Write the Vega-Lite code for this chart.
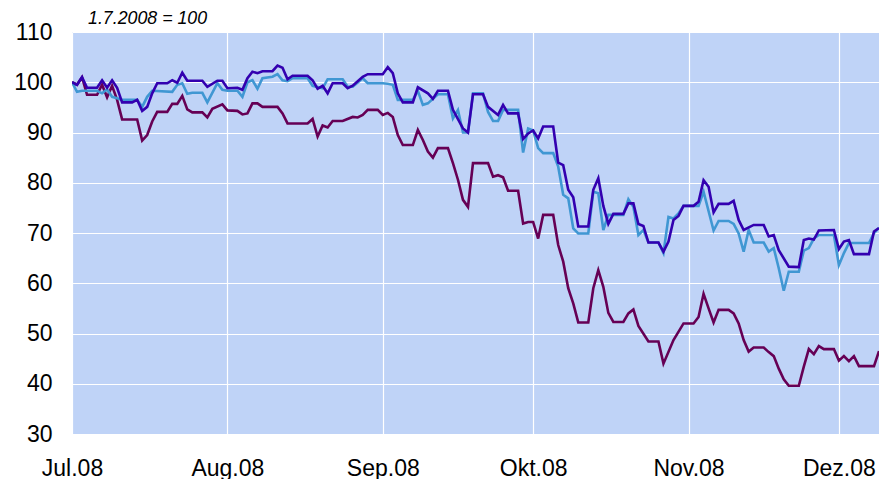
{
 "$schema": "https://vega.github.io/schema/vega-lite/v6.json",
 "width": 807,
 "height": 402,
 "autosize": {"type": "none"},
 "padding": {"left": 72, "top": 32, "right": 0, "bottom": 45},
 "background": "white",
 "title": {"text": "1.7.2008 = 100", "anchor": "start", "frame": "group", "fontStyle": "italic", "fontWeight": "normal", "fontSize": 17.8, "font": "Liberation Sans", "color": "black", "baseline": "bottom", "offset": 5, "dx": 16, "dy": 30},
 "config": {"view": {"fill": "#BFD3F7", "stroke": null}, "font": "Liberation Sans"},
 "data": {"values": [
  {"d":"2008-07-01","s":"A","v":100},{"d":"2008-07-02","s":"A","v":99.5},{"d":"2008-07-03","s":"A","v":101},{"d":"2008-07-04","s":"A","v":97.5},{"d":"2008-07-06","s":"A","v":97.5},{"d":"2008-07-07","s":"A","v":99.5},{"d":"2008-07-08","s":"A","v":97},{"d":"2008-07-09","s":"A","v":99.3},{"d":"2008-07-10","s":"A","v":96.5},{"d":"2008-07-11","s":"A","v":92.6},{"d":"2008-07-14","s":"A","v":92.6},{"d":"2008-07-15","s":"A","v":88.4},{"d":"2008-07-16","s":"A","v":89.5},{"d":"2008-07-17","s":"A","v":92.2},{"d":"2008-07-18","s":"A","v":94.1},{"d":"2008-07-20","s":"A","v":94.1},{"d":"2008-07-21","s":"A","v":95.7},{"d":"2008-07-22","s":"A","v":95.7},{"d":"2008-07-23","s":"A","v":97.3},{"d":"2008-07-24","s":"A","v":94.6},{"d":"2008-07-25","s":"A","v":94},{"d":"2008-07-27","s":"A","v":94},{"d":"2008-07-28","s":"A","v":93},{"d":"2008-07-29","s":"A","v":94.7},{"d":"2008-07-31","s":"A","v":95.6},
  {"d":"2008-08-01","s":"A","v":94.4},{"d":"2008-08-03","s":"A","v":94.3},{"d":"2008-08-04","s":"A","v":93.6},{"d":"2008-08-05","s":"A","v":93.8},{"d":"2008-08-06","s":"A","v":95.8},{"d":"2008-08-07","s":"A","v":95.8},{"d":"2008-08-08","s":"A","v":95.1},{"d":"2008-08-11","s":"A","v":95.1},{"d":"2008-08-12","s":"A","v":93.8},{"d":"2008-08-13","s":"A","v":91.8},{"d":"2008-08-17","s":"A","v":91.8},{"d":"2008-08-18","s":"A","v":92.7},{"d":"2008-08-19","s":"A","v":89.2},{"d":"2008-08-20","s":"A","v":91.4},{"d":"2008-08-21","s":"A","v":91},{"d":"2008-08-22","s":"A","v":92.3},{"d":"2008-08-24","s":"A","v":92.3},{"d":"2008-08-26","s":"A","v":93.1},{"d":"2008-08-27","s":"A","v":93},{"d":"2008-08-28","s":"A","v":93.5},{"d":"2008-08-29","s":"A","v":94.5},{"d":"2008-08-31","s":"A","v":94.5},
  {"d":"2008-09-01","s":"A","v":93.5},{"d":"2008-09-02","s":"A","v":93.9},{"d":"2008-09-03","s":"A","v":93.1},{"d":"2008-09-04","s":"A","v":89.5},{"d":"2008-09-05","s":"A","v":87.5},{"d":"2008-09-07","s":"A","v":87.5},{"d":"2008-09-08","s":"A","v":90.5},{"d":"2008-09-09","s":"A","v":88.5},{"d":"2008-09-10","s":"A","v":86.2},{"d":"2008-09-11","s":"A","v":85},{"d":"2008-09-12","s":"A","v":86.9},{"d":"2008-09-14","s":"A","v":86.9},{"d":"2008-09-15","s":"A","v":83.9},{"d":"2008-09-16","s":"A","v":80.6},{"d":"2008-09-17","s":"A","v":76.6},{"d":"2008-09-18","s":"A","v":75.2},{"d":"2008-09-19","s":"A","v":83.9},{"d":"2008-09-22","s":"A","v":83.9},{"d":"2008-09-23","s":"A","v":81.2},{"d":"2008-09-24","s":"A","v":81.5},{"d":"2008-09-25","s":"A","v":81.1},{"d":"2008-09-26","s":"A","v":78.4},{"d":"2008-09-28","s":"A","v":78.4},{"d":"2008-09-29","s":"A","v":71.9},{"d":"2008-09-30","s":"A","v":72.2},
  {"d":"2008-10-01","s":"A","v":72.2},{"d":"2008-10-02","s":"A","v":68.9},{"d":"2008-10-03","s":"A","v":73.6},{"d":"2008-10-05","s":"A","v":73.6},{"d":"2008-10-06","s":"A","v":67.6},{"d":"2008-10-07","s":"A","v":64.3},{"d":"2008-10-08","s":"A","v":59},{"d":"2008-10-09","s":"A","v":56},{"d":"2008-10-10","s":"A","v":52.2},{"d":"2008-10-12","s":"A","v":52.2},{"d":"2008-10-13","s":"A","v":59},{"d":"2008-10-14","s":"A","v":62.6},{"d":"2008-10-15","s":"A","v":59.3},{"d":"2008-10-16","s":"A","v":54.1},{"d":"2008-10-17","s":"A","v":52.3},{"d":"2008-10-19","s":"A","v":52.3},{"d":"2008-10-20","s":"A","v":54},{"d":"2008-10-21","s":"A","v":54.8},{"d":"2008-10-22","s":"A","v":51.5},{"d":"2008-10-24","s":"A","v":48.4},{"d":"2008-10-26","s":"A","v":48.4},{"d":"2008-10-27","s":"A","v":44},{"d":"2008-10-29","s":"A","v":48.7},{"d":"2008-10-31","s":"A","v":52},
  {"d":"2008-11-02","s":"A","v":52},{"d":"2008-11-03","s":"A","v":53.3},{"d":"2008-11-04","s":"A","v":57.9},{"d":"2008-11-05","s":"A","v":55},{"d":"2008-11-06","s":"A","v":52.2},{"d":"2008-11-07","s":"A","v":54.7},{"d":"2008-11-09","s":"A","v":54.7},{"d":"2008-11-10","s":"A","v":54},{"d":"2008-11-11","s":"A","v":52},{"d":"2008-11-12","s":"A","v":48.7},{"d":"2008-11-13","s":"A","v":46.4},{"d":"2008-11-14","s":"A","v":47.2},{"d":"2008-11-16","s":"A","v":47.2},{"d":"2008-11-17","s":"A","v":46.3},{"d":"2008-11-18","s":"A","v":45.5},{"d":"2008-11-19","s":"A","v":43},{"d":"2008-11-20","s":"A","v":40.9},{"d":"2008-11-21","s":"A","v":39.6},{"d":"2008-11-23","s":"A","v":39.6},{"d":"2008-11-24","s":"A","v":43.4},{"d":"2008-11-25","s":"A","v":46.9},{"d":"2008-11-26","s":"A","v":45.9},{"d":"2008-11-27","s":"A","v":47.5},{"d":"2008-11-28","s":"A","v":46.9},{"d":"2008-11-30","s":"A","v":46.9},
  {"d":"2008-12-01","s":"A","v":44.6},{"d":"2008-12-02","s":"A","v":45.5},{"d":"2008-12-03","s":"A","v":44.5},{"d":"2008-12-04","s":"A","v":45.5},{"d":"2008-12-05","s":"A","v":43.5},{"d":"2008-12-08","s":"A","v":43.5},{"d":"2008-12-09","s":"A","v":46.5},

  {"d":"2008-07-01","s":"B","v":100},{"d":"2008-07-02","s":"B","v":98.1},{"d":"2008-07-03","s":"B","v":98.3},{"d":"2008-07-06","s":"B","v":98.3},{"d":"2008-07-07","s":"B","v":97.8},{"d":"2008-07-08","s":"B","v":98.6},{"d":"2008-07-09","s":"B","v":97.1},{"d":"2008-07-10","s":"B","v":96.8},{"d":"2008-07-11","s":"B","v":96.5},{"d":"2008-07-14","s":"B","v":96.5},{"d":"2008-07-15","s":"B","v":95.1},{"d":"2008-07-16","s":"B","v":97.1},{"d":"2008-07-17","s":"B","v":98.3},{"d":"2008-07-21","s":"B","v":98.1},{"d":"2008-07-22","s":"B","v":99.5},{"d":"2008-07-23","s":"B","v":99.8},{"d":"2008-07-24","s":"B","v":97.7},{"d":"2008-07-25","s":"B","v":97.9},{"d":"2008-07-27","s":"B","v":97.9},{"d":"2008-07-28","s":"B","v":96},{"d":"2008-07-30","s":"B","v":99.8},{"d":"2008-07-31","s":"B","v":98.5},
  {"d":"2008-08-01","s":"B","v":98.3},{"d":"2008-08-03","s":"B","v":98.3},{"d":"2008-08-04","s":"B","v":97.1},{"d":"2008-08-05","s":"B","v":100},{"d":"2008-08-06","s":"B","v":100.4},{"d":"2008-08-07","s":"B","v":98.7},{"d":"2008-08-08","s":"B","v":100.8},{"d":"2008-08-10","s":"B","v":101.1},{"d":"2008-08-11","s":"B","v":101.6},{"d":"2008-08-12","s":"B","v":100.4},{"d":"2008-08-13","s":"B","v":100.2},{"d":"2008-08-14","s":"B","v":100.8},{"d":"2008-08-17","s":"B","v":100.8},{"d":"2008-08-18","s":"B","v":99.3},{"d":"2008-08-20","s":"B","v":98.8},{"d":"2008-08-21","s":"B","v":100.6},{"d":"2008-08-24","s":"B","v":100.6},{"d":"2008-08-25","s":"B","v":99.1},{"d":"2008-08-26","s":"B","v":99.1},{"d":"2008-08-28","s":"B","v":100.8},{"d":"2008-08-29","s":"B","v":99.8},
  {"d":"2008-09-01","s":"B","v":99.8},{"d":"2008-09-02","s":"B","v":99.7},{"d":"2008-09-03","s":"B","v":99.5},{"d":"2008-09-04","s":"B","v":96.5},{"d":"2008-09-07","s":"B","v":96.5},{"d":"2008-09-08","s":"B","v":98.3},{"d":"2008-09-09","s":"B","v":95.5},{"d":"2008-09-10","s":"B","v":95.8},{"d":"2008-09-12","s":"B","v":97.6},{"d":"2008-09-14","s":"B","v":97.6},{"d":"2008-09-15","s":"B","v":92.8},{"d":"2008-09-16","s":"B","v":94.5},{"d":"2008-09-17","s":"B","v":90},{"d":"2008-09-18","s":"B","v":90},{"d":"2008-09-19","s":"B","v":97.8},{"d":"2008-09-21","s":"B","v":97.8},{"d":"2008-09-22","s":"B","v":94.1},{"d":"2008-09-23","s":"B","v":92.3},{"d":"2008-09-24","s":"B","v":92.3},{"d":"2008-09-25","s":"B","v":94.5},{"d":"2008-09-28","s":"B","v":94.5},{"d":"2008-09-29","s":"B","v":86},{"d":"2008-09-30","s":"B","v":90.8},
  {"d":"2008-10-01","s":"B","v":90.4},{"d":"2008-10-02","s":"B","v":86.9},{"d":"2008-10-03","s":"B","v":85.9},{"d":"2008-10-05","s":"B","v":85.9},{"d":"2008-10-06","s":"B","v":83.2},{"d":"2008-10-07","s":"B","v":77.6},{"d":"2008-10-08","s":"B","v":76.9},{"d":"2008-10-09","s":"B","v":70.9},{"d":"2008-10-10","s":"B","v":69.9},{"d":"2008-10-12","s":"B","v":69.9},{"d":"2008-10-13","s":"B","v":78.2},{"d":"2008-10-14","s":"B","v":77.9},{"d":"2008-10-15","s":"B","v":70.6},{"d":"2008-10-16","s":"B","v":73.6},{"d":"2008-10-19","s":"B","v":73.6},{"d":"2008-10-20","s":"B","v":76.7},{"d":"2008-10-21","s":"B","v":75.2},{"d":"2008-10-22","s":"B","v":69.6},{"d":"2008-10-23","s":"B","v":70.6},{"d":"2008-10-24","s":"B","v":68.1},{"d":"2008-10-26","s":"B","v":68.1},{"d":"2008-10-27","s":"B","v":66},{"d":"2008-10-28","s":"B","v":73.2},{"d":"2008-10-29","s":"B","v":72.9},{"d":"2008-10-30","s":"B","v":73.9},{"d":"2008-10-31","s":"B","v":75.4},
  {"d":"2008-11-03","s":"B","v":75.4},{"d":"2008-11-04","s":"B","v":78.2},{"d":"2008-11-06","s":"B","v":70.5},{"d":"2008-11-07","s":"B","v":72.4},{"d":"2008-11-09","s":"B","v":72.4},{"d":"2008-11-10","s":"B","v":71.8},{"d":"2008-11-11","s":"B","v":69.9},{"d":"2008-11-12","s":"B","v":66.3},{"d":"2008-11-13","s":"B","v":70.6},{"d":"2008-11-14","s":"B","v":68.1},{"d":"2008-11-16","s":"B","v":68.1},{"d":"2008-11-17","s":"B","v":66.3},{"d":"2008-11-18","s":"B","v":67},{"d":"2008-11-19","s":"B","v":63},{"d":"2008-11-20","s":"B","v":58.5},{"d":"2008-11-21","s":"B","v":62.3},{"d":"2008-11-23","s":"B","v":62.3},{"d":"2008-11-24","s":"B","v":66.5},{"d":"2008-11-25","s":"B","v":67},{"d":"2008-11-26","s":"B","v":68.9},{"d":"2008-11-27","s":"B","v":69.6},{"d":"2008-11-30","s":"B","v":69.6},
  {"d":"2008-12-01","s":"B","v":63.6},{"d":"2008-12-02","s":"B","v":66},{"d":"2008-12-03","s":"B","v":68},{"d":"2008-12-07","s":"B","v":68},{"d":"2008-12-08","s":"B","v":70},{"d":"2008-12-09","s":"B","v":71},

  {"d":"2008-07-01","s":"C","v":100},{"d":"2008-07-02","s":"C","v":99.5},{"d":"2008-07-03","s":"C","v":101},{"d":"2008-07-04","s":"C","v":98.9},{"d":"2008-07-06","s":"C","v":98.9},{"d":"2008-07-07","s":"C","v":100.4},{"d":"2008-07-08","s":"C","v":98.9},{"d":"2008-07-09","s":"C","v":100.4},{"d":"2008-07-10","s":"C","v":98.9},{"d":"2008-07-11","s":"C","v":96},{"d":"2008-07-13","s":"C","v":96},{"d":"2008-07-14","s":"C","v":96.5},{"d":"2008-07-15","s":"C","v":94.3},{"d":"2008-07-16","s":"C","v":95.1},{"d":"2008-07-17","s":"C","v":97.8},{"d":"2008-07-18","s":"C","v":99.8},{"d":"2008-07-20","s":"C","v":99.8},{"d":"2008-07-21","s":"C","v":100.4},{"d":"2008-07-22","s":"C","v":99.9},{"d":"2008-07-23","s":"C","v":101.9},{"d":"2008-07-24","s":"C","v":100.3},{"d":"2008-07-27","s":"C","v":100.3},{"d":"2008-07-28","s":"C","v":99.1},{"d":"2008-07-30","s":"C","v":100.3},{"d":"2008-07-31","s":"C","v":100.3},
  {"d":"2008-08-01","s":"C","v":98.8},{"d":"2008-08-03","s":"C","v":98.9},{"d":"2008-08-04","s":"C","v":98.5},{"d":"2008-08-05","s":"C","v":100.8},{"d":"2008-08-06","s":"C","v":102.1},{"d":"2008-08-07","s":"C","v":101.8},{"d":"2008-08-08","s":"C","v":102.2},{"d":"2008-08-10","s":"C","v":102.2},{"d":"2008-08-11","s":"C","v":103.3},{"d":"2008-08-12","s":"C","v":102.9},{"d":"2008-08-13","s":"C","v":100.6},{"d":"2008-08-14","s":"C","v":101.3},{"d":"2008-08-17","s":"C","v":101.3},{"d":"2008-08-18","s":"C","v":100.4},{"d":"2008-08-19","s":"C","v":98.7},{"d":"2008-08-20","s":"C","v":99.3},{"d":"2008-08-21","s":"C","v":97.8},{"d":"2008-08-22","s":"C","v":99.8},{"d":"2008-08-24","s":"C","v":99.8},{"d":"2008-08-25","s":"C","v":98.8},{"d":"2008-08-26","s":"C","v":99.3},{"d":"2008-08-28","s":"C","v":101.1},{"d":"2008-08-29","s":"C","v":101.6},
  {"d":"2008-09-01","s":"C","v":101.6},{"d":"2008-09-02","s":"C","v":103},{"d":"2008-09-03","s":"C","v":101.8},{"d":"2008-09-04","s":"C","v":97.8},{"d":"2008-09-05","s":"C","v":96},{"d":"2008-09-07","s":"C","v":96},{"d":"2008-09-08","s":"C","v":99},{"d":"2008-09-10","s":"C","v":97.8},{"d":"2008-09-11","s":"C","v":96.7},{"d":"2008-09-12","s":"C","v":98.3},{"d":"2008-09-14","s":"C","v":98.3},{"d":"2008-09-15","s":"C","v":94.5},{"d":"2008-09-17","s":"C","v":90.8},{"d":"2008-09-18","s":"C","v":90},{"d":"2008-09-19","s":"C","v":97.6},{"d":"2008-09-21","s":"C","v":97.6},{"d":"2008-09-22","s":"C","v":95.1},{"d":"2008-09-24","s":"C","v":93.5},{"d":"2008-09-25","s":"C","v":95.5},{"d":"2008-09-26","s":"C","v":93.8},{"d":"2008-09-28","s":"C","v":93.8},{"d":"2008-09-29","s":"C","v":88.7},{"d":"2008-09-30","s":"C","v":89.8},
  {"d":"2008-10-01","s":"C","v":90.4},{"d":"2008-10-02","s":"C","v":88.8},{"d":"2008-10-03","s":"C","v":91.2},{"d":"2008-10-05","s":"C","v":91.2},{"d":"2008-10-06","s":"C","v":84},{"d":"2008-10-07","s":"C","v":83.5},{"d":"2008-10-08","s":"C","v":78.6},{"d":"2008-10-09","s":"C","v":77.1},{"d":"2008-10-10","s":"C","v":71.3},{"d":"2008-10-12","s":"C","v":71.3},{"d":"2008-10-13","s":"C","v":78.6},{"d":"2008-10-14","s":"C","v":80.9},{"d":"2008-10-15","s":"C","v":75.4},{"d":"2008-10-16","s":"C","v":71.8},{"d":"2008-10-17","s":"C","v":73.8},{"d":"2008-10-19","s":"C","v":73.8},{"d":"2008-10-20","s":"C","v":75.9},{"d":"2008-10-21","s":"C","v":75.9},{"d":"2008-10-22","s":"C","v":71.8},{"d":"2008-10-23","s":"C","v":71.4},{"d":"2008-10-24","s":"C","v":68.1},{"d":"2008-10-26","s":"C","v":68.1},{"d":"2008-10-27","s":"C","v":66.3},{"d":"2008-10-28","s":"C","v":68.3},{"d":"2008-10-29","s":"C","v":72.6},{"d":"2008-10-30","s":"C","v":73.4},{"d":"2008-10-31","s":"C","v":75.4},
  {"d":"2008-11-02","s":"C","v":75.4},{"d":"2008-11-03","s":"C","v":76.2},{"d":"2008-11-04","s":"C","v":80.5},{"d":"2008-11-05","s":"C","v":79.2},{"d":"2008-11-06","s":"C","v":74.1},{"d":"2008-11-07","s":"C","v":75.8},{"d":"2008-11-09","s":"C","v":75.8},{"d":"2008-11-10","s":"C","v":76.4},{"d":"2008-11-11","s":"C","v":72.6},{"d":"2008-11-12","s":"C","v":70.6},{"d":"2008-11-14","s":"C","v":71.6},{"d":"2008-11-16","s":"C","v":71.6},{"d":"2008-11-17","s":"C","v":69.3},{"d":"2008-11-18","s":"C","v":69.6},{"d":"2008-11-19","s":"C","v":66.6},{"d":"2008-11-21","s":"C","v":63.3},{"d":"2008-11-23","s":"C","v":63.2},{"d":"2008-11-24","s":"C","v":68.6},{"d":"2008-11-25","s":"C","v":68.9},{"d":"2008-11-26","s":"C","v":68.7},{"d":"2008-11-27","s":"C","v":70.5},{"d":"2008-11-30","s":"C","v":70.6},
  {"d":"2008-12-01","s":"C","v":66.8},{"d":"2008-12-02","s":"C","v":68.3},{"d":"2008-12-03","s":"C","v":68.6},{"d":"2008-12-04","s":"C","v":65.8},{"d":"2008-12-07","s":"C","v":65.8},{"d":"2008-12-08","s":"C","v":70.3},{"d":"2008-12-09","s":"C","v":71}
 ]},
 "mark": {"type": "line", "strokeWidth": 2.6, "clip": true},
 "encoding": {
  "x": {"field": "d", "type": "temporal",
   "scale": {"type": "utc", "domain": [{"year": 2008, "month": 7, "date": 1, "utc": true}, {"year": 2008, "month": 12, "date": 9, "utc": true}]},
   "axis": {"title": null, "domain": false, "ticks": false, "tickSize": 0, "labelFontSize": 23, "labelColor": "black", "labelPadding": 23, "labelFlush": false, "labelOverlap": false, "grid": true, "gridColor": "white", "gridWidth": 1.2, "gridOpacity": 1,
    "values": [{"year": 2008, "month": 7, "date": 1, "utc": true}, {"year": 2008, "month": 8, "date": 1, "utc": true}, {"year": 2008, "month": 9, "date": 1, "utc": true}, {"year": 2008, "month": 10, "date": 1, "utc": true}, {"year": 2008, "month": 11, "date": 1, "utc": true}, {"year": 2008, "month": 12, "date": 1, "utc": true}],
    "labelExpr": "['Jan','Feb','Mär','Apr','Mai','Jun','Jul','Aug','Sep','Okt','Nov','Dez'][utcmonth(datum.value)] + '.08'"}},
  "y": {"field": "v", "type": "quantitative",
   "scale": {"domain": [30, 110], "nice": false, "zero": false},
   "axis": {"title": null, "domain": false, "ticks": false, "tickSize": 0, "values": [30, 40, 50, 60, 70, 80, 90, 100, 110], "labelFontSize": 23, "labelColor": "black", "labelPadding": 20, "grid": true, "gridColor": "white", "gridWidth": 1.2, "gridOpacity": 1}},
  "color": {"field": "s", "type": "nominal", "scale": {"domain": ["A", "B", "C"], "range": ["#660055", "#4097D3", "#3300B0"]}, "legend": null}
 }
}
